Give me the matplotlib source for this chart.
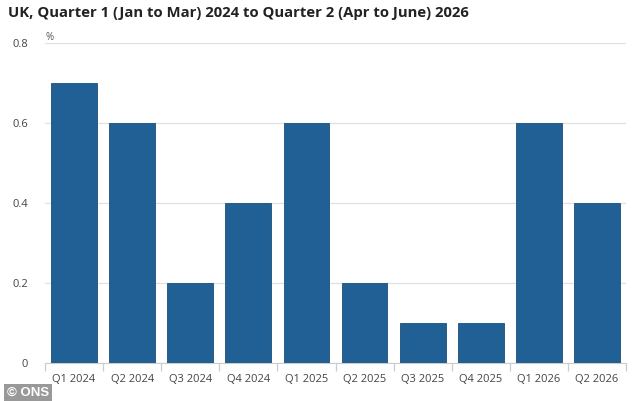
import matplotlib.pyplot as plt

plt.rcParams['font.family'] = ['Open Sans', 'DejaVu Sans']

quarters = ['Q1 2024', 'Q2 2024', 'Q3 2024', 'Q4 2024', 'Q1 2025',
            'Q2 2025', 'Q3 2025', 'Q4 2025', 'Q1 2026', 'Q2 2026']
growth = [0.7, 0.6, 0.2, 0.4, 0.6, 0.2, 0.1, 0.1, 0.6, 0.4]
yticks = [0, 0.2, 0.4, 0.6, 0.8]
ytick_labels = ['0', '0.2', '0.4', '0.6', '0.8']

fig = plt.figure(figsize=(6.34, 4.01), dpi=100)
ax = fig.add_axes([45/634, 1 - 363/401, 581/634, 320/401])

x = list(range(len(quarters)))
ax.bar(x, growth, width=0.79, color='#206095', edgecolor='#1a4f7c', linewidth=0.6, zorder=3)

ax.set_xlim(-0.5, len(quarters) - 0.5)
ax.set_ylim(0, 0.8)
ax.set_yticks(yticks)
ax.set_yticklabels(ytick_labels)
ax.yaxis.grid(True, color='#e0e0e0', linewidth=0.9, zorder=0)
ax.tick_params(axis='y', length=0, labelsize=8, labelcolor='#444444', pad=12)

ax.set_xticks(x)
ax.set_xticklabels(quarters)
ax.tick_params(axis='x', length=0, labelsize=8, labelcolor='#444444', pad=8)
# boundary ticks between categories
ax.set_xticks([i - 0.5 for i in range(len(quarters) + 1)], minor=True)
ax.tick_params(axis='x', which='minor', length=6, color='#cccccc', width=0.9)

for side in ['top', 'right', 'left']:
    ax.spines[side].set_visible(False)
ax.spines['bottom'].set_color('#cccccc')

ax.text(0.0, 0.8, '%', transform=ax.get_yaxis_transform(), fontsize=7, color='#555555',
        ha='left', va='bottom')

fig.text(8/634, 1 - 13/401, 'UK, Quarter 1 (Jan to Mar) 2024 to Quarter 2 (Apr to June) 2026',
         fontsize=10.7, fontweight='bold', color='#222222', ha='left', va='center')

fig.text(7/634, 1 - 393/401, '© ONS', fontsize=9.5, fontweight='bold', color='white',
         ha='left', va='center', family=['Liberation Sans', 'DejaVu Sans'],
         bbox=dict(boxstyle='square,pad=0.25', facecolor='#999999', edgecolor='none'))

fig.savefig('out.png', dpi=100)
